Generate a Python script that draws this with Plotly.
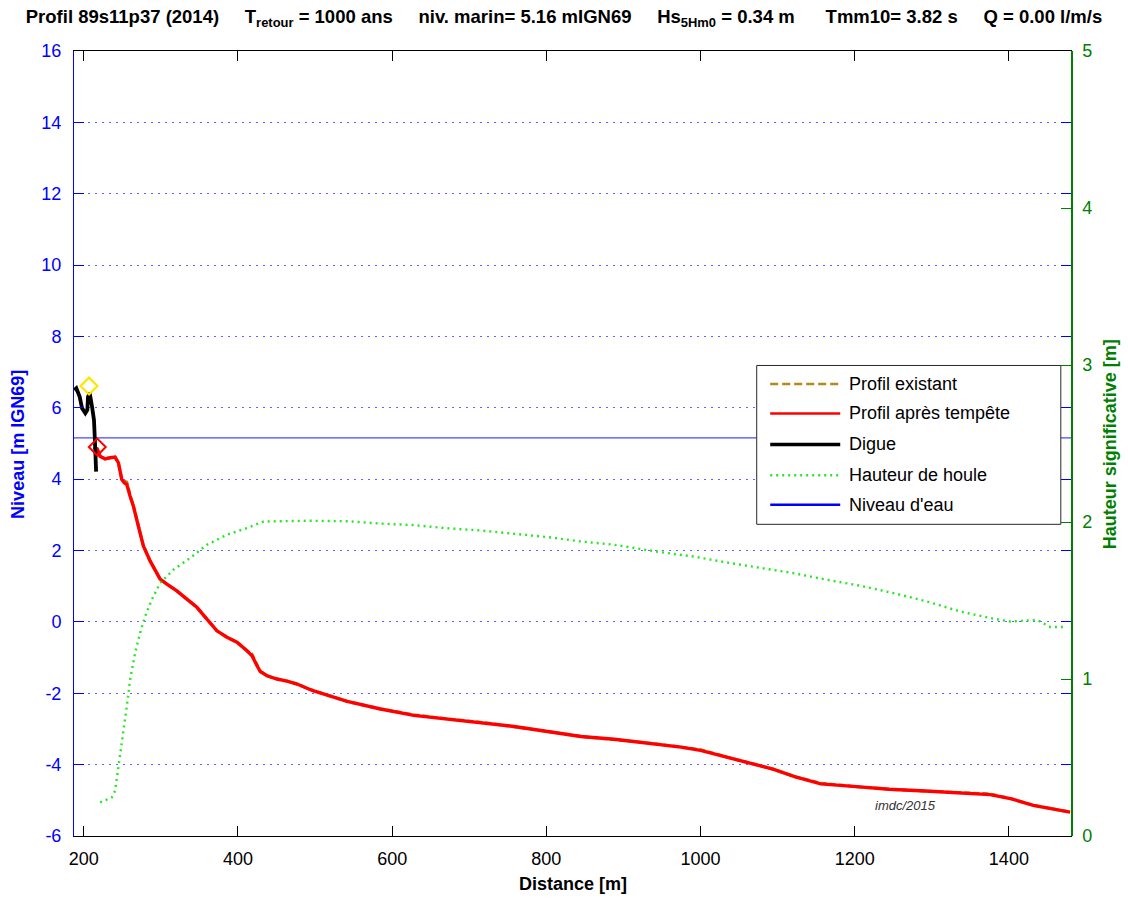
import plotly.graph_objects as go

# ---- profile data ----------------------------------------------------------
# Profile after storm (distance [m], level [m IGN69])
dist_apres = [213.0, 217.5, 221.1, 227.6, 234.0, 240.6, 244.9, 249.3, 252.5, 255.8,
              260.1, 264.4, 270.8, 277.3, 286.0, 299.0, 307.8, 320.7, 333.7, 346.7,
              359.7, 372.7, 385.7, 398.7, 411.7, 418.2, 424.7, 429.0, 437.7, 450.7,
              463.7, 476.7, 491.8, 498.3, 541.7, 584.9, 628.2, 671.6, 714.9, 758.2,
              801.6, 844.9, 888.1, 931.5, 974.8, 1000.0, 1041.5, 1067.0, 1095.0, 1123.0,
              1156.0, 1198.0, 1244.6, 1291.4, 1338.0, 1375.7, 1403.6, 1431.7, 1479.5]
niv_apres = [4.90, 4.85, 4.64, 4.57, 4.60, 4.62, 4.46, 3.99, 3.90, 3.85,
             3.52, 3.24, 2.68, 2.13, 1.71, 1.20, 1.06, 0.87, 0.64, 0.41,
             0.08, -0.25, -0.43, -0.57, -0.81, -0.95, -1.23, -1.39, -1.51, -1.60,
             -1.66, -1.74, -1.88, -1.93, -2.23, -2.44, -2.62, -2.72, -2.81, -2.93,
             -3.07, -3.21, -3.29, -3.39, -3.51, -3.60, -3.83, -3.98, -4.13, -4.34,
             -4.54, -4.61, -4.69, -4.74, -4.79, -4.84, -4.96, -5.14, -5.33]

# Existing profile (almost identical to the post-storm one)
dist_exist = list(dist_apres)
niv_exist = [4.90, 4.85, 4.64, 4.57, 4.60, 4.62, 4.46, 3.99, 3.95, 3.92,
             3.55, 3.24, 2.70, 2.13, 1.71, 1.20, 1.06, 0.87, 0.64, 0.41,
             0.08, -0.25, -0.43, -0.57, -0.81, -0.90, -1.20, -1.39, -1.51, -1.60,
             -1.66, -1.74, -1.88, -1.93, -2.23, -2.44, -2.60, -2.72, -2.81, -2.93,
             -3.07, -3.21, -3.29, -3.39, -3.51, -3.58, -3.83, -3.98, -4.13, -4.34,
             -4.52, -4.61, -4.69, -4.74, -4.79, -4.82, -4.96, -5.14, -5.33]

# Seawall (digue)
dist_digue = [187.5, 190.3, 194.7, 197.7, 202.0, 204.6, 205.5, 207.7, 210.7, 213.2, 214.2, 214.9, 216.0]
niv_digue = [6.50, 6.55, 6.31, 5.99, 5.85, 5.94, 6.31, 6.41, 6.03, 5.66, 5.19, 4.73, 4.21]

# Significant wave height along the profile [m]
dist_houle = [221.2, 228.0, 236.3, 240.6, 244.9, 249.3, 255.8, 260.1, 266.6, 273.1,
              279.6, 288.3, 299.0, 316.3, 338.0, 359.7, 385.7, 411.7, 433.3, 463.7,
              491.8, 541.7, 584.9, 628.2, 671.6, 714.9, 758.2, 801.6, 844.9, 888.1,
              947.7, 990.9, 1034.2, 1077.4, 1120.6, 1164.0, 1207.2, 1250.4, 1293.7, 1336.9,
              1380.1, 1401.8, 1436.4, 1453.7, 1475.3]
hs_houle = [0.214, 0.230, 0.246, 0.288, 0.426, 0.595, 0.828, 0.997, 1.167, 1.294,
            1.400, 1.506, 1.612, 1.696, 1.771, 1.855, 1.919, 1.961, 2.003, 2.008,
            2.008, 2.005, 1.990, 1.980, 1.960, 1.946, 1.925, 1.904, 1.876, 1.855,
            1.808, 1.780, 1.742, 1.706, 1.674, 1.632, 1.594, 1.547, 1.494, 1.430,
            1.384, 1.366, 1.377, 1.331, 1.331]

# Marked points: crest (yellow) and toe (red)
crete_x, crete_y = [206.8], [6.61]
pied_x, pied_y = [217.5], [4.90]

niv_marin = 5.16
x_lim = [187.3, 1480.6]
x_ticks = [200, 400, 600, 800, 1000, 1200, 1400]
y_ticks = [-6, -4, -2, 0, 2, 4, 6, 8, 10, 12, 14, 16]
y_tick_labels = ["-6", "-4", "-2", "0", "2", "4", "6", "8", "10", "12", "14", "16"]
hs_ticks = [0, 1, 2, 3, 4, 5]

legend_labels = ["Profil existant", "Profil après tempête", "Digue",
                 "Hauteur de houle", "Niveau d'eau"]

BROWN = "rgb(184,134,30)"
RED = "rgb(255,0,0)"
GREEN_DOT = "rgb(40,230,40)"
BLUE = "rgb(0,0,255)"
AXGREEN = "rgb(0,128,0)"
FONT = "Liberation Sans, Arial, sans-serif"

fig = go.Figure()

fig.add_trace(go.Scatter(x=dist_houle, y=hs_houle, yaxis="y2", mode="lines",
                         line=dict(color=GREEN_DOT, width=2.4, dash="2px,4px"),
                         showlegend=False, hoverinfo="skip"))
fig.add_trace(go.Scatter(x=x_lim, y=[niv_marin, niv_marin], mode="lines",
                         line=dict(color="rgb(70,70,255)", width=1.2),
                         showlegend=False, hoverinfo="skip"))
fig.add_trace(go.Scatter(x=dist_exist, y=niv_exist, mode="lines",
                         line=dict(color=BROWN, width=3, dash="6px,3px"),
                         showlegend=False, hoverinfo="skip"))
fig.add_trace(go.Scatter(x=dist_apres, y=niv_apres, mode="lines",
                         line=dict(color=RED, width=3.4),
                         showlegend=False, hoverinfo="skip"))
fig.add_trace(go.Scatter(x=dist_digue, y=niv_digue, mode="lines",
                         line=dict(color="black", width=3.8),
                         showlegend=False, hoverinfo="skip"))
fig.add_trace(go.Scatter(x=crete_x, y=crete_y, mode="markers",
                         marker=dict(symbol="diamond-open", size=13, color="rgb(255,230,0)",
                                     line=dict(width=2.2)),
                         showlegend=False, hoverinfo="skip"))
fig.add_trace(go.Scatter(x=pied_x, y=pied_y, mode="markers",
                         marker=dict(symbol="diamond-open", size=13, color=RED,
                                     line=dict(width=2)),
                         showlegend=False, hoverinfo="skip"))

# ---- layout ----------------------------------------------------------------
L, R, T, B = 74, 57.3, 50.7, 65.5
W, H = 1128, 902
pw, ph = W - L - R, H - T - B


def px_x(p):
    return (p - L) / pw


def px_y(p):
    return (H - B - p) / ph


gap = "\u00a0" * 5
title = ("Profil 89s11p37 (2014)" + gap + "T<sub>retour</sub> = 1000 ans" + gap +
         "niv. marin= 5.16 mIGN69" + gap + "Hs<sub>5Hm0</sub> = 0.34 m" + gap + "\u00a0" +
         "Tmm10= 3.82 s" + gap + "Q = 0.00 l/m/s")

fig.update_layout(
    width=W, height=H,
    margin=dict(l=L, r=R, t=T, b=B),
    paper_bgcolor="white", plot_bgcolor="white",
    font=dict(family=FONT, size=18, color="black"),
    showlegend=False,
    title=dict(text=title, x=0.5, xanchor="center", y=1 - 17 / H, yanchor="middle",
               font=dict(family=FONT, size=18.5, color="black", weight="bold")),
    xaxis=dict(range=x_lim, tickvals=x_ticks,
               ticks="inside", ticklen=10, tickcolor="black", tickwidth=1,
               showline=True, linecolor="black", linewidth=1, mirror="ticks",
               showgrid=False, zeroline=False,
               tickfont=dict(size=18, color="black"), ticklabelstandoff=6),
    yaxis=dict(range=[-6, 16], tickvals=y_ticks, ticktext=y_tick_labels,
               ticks="inside", ticklen=10,
               tickcolor=BLUE, showline=True, linecolor=BLUE, linewidth=1, mirror="ticks",
               showgrid=True, gridcolor="rgba(60,60,255,0.8)", gridwidth=1,
               griddash="2px,5px", zeroline=False,
               tickfont=dict(size=18, color=BLUE), ticklabelstandoff=8),
    yaxis2=dict(range=[0, 5], tickvals=hs_ticks, overlaying="y", side="right",
                ticks="inside", ticklen=10, tickcolor=AXGREEN, showline=True,
                linecolor=AXGREEN, linewidth=1.5, showgrid=False, zeroline=False,
                tickfont=dict(size=18, color=AXGREEN), ticklabelstandoff=6),
)

annotations = [
    dict(text="<b>Niveau [m IGN69]</b>", xref="paper", yref="paper",
         x=px_x(18), y=px_y(444), textangle=-90, showarrow=False,
         font=dict(size=18, color=BLUE), xanchor="center", yanchor="middle"),
    dict(text="<b>Hauteur significative [m]</b>", xref="paper", yref="paper",
         x=px_x(1110), y=px_y(444), textangle=-90, showarrow=False,
         font=dict(size=18, color=AXGREEN), xanchor="center", yanchor="middle"),
    dict(text="<b>Distance [m]</b>", xref="paper", yref="paper",
         x=px_x(573), y=px_y(885), showarrow=False,
         font=dict(size=18, color="black"), xanchor="center", yanchor="middle"),
    dict(text="<i>imdc/2015</i>", xref="paper", yref="paper",
         x=px_x(905), y=px_y(806), showarrow=False,
         font=dict(size=13, color="rgb(50,50,50)"), xanchor="center", yanchor="middle"),
]

# Legend box drawn by hand (long line samples)
shapes = [dict(type="rect", xref="paper", yref="paper",
               x0=px_x(756.5), x1=px_x(1060.5), y0=px_y(524.5), y1=px_y(365.5),
               line=dict(color="rgb(40,40,40)", width=1), fillcolor="white", layer="above")]
leg_styles = [dict(color=BROWN, width=2.5, dash="8px,4px"),
              dict(color=RED, width=2.5),
              dict(color="black", width=3.5),
              dict(color=GREEN_DOT, width=2.5, dash="2px,4px"),
              dict(color=BLUE, width=2.5)]
leg_y = [384, 413.5, 444.5, 475.5, 505]
for lab, sty, yy in zip(legend_labels, leg_styles, leg_y):
    shapes.append(dict(type="line", xref="paper", yref="paper",
                       x0=px_x(770), x1=px_x(840), y0=px_y(yy), y1=px_y(yy),
                       line=sty, layer="above"))
    annotations.append(dict(text=lab, xref="paper", yref="paper",
                            x=px_x(847), y=px_y(yy), showarrow=False,
                            xanchor="left", yanchor="middle",
                            font=dict(size=18, color="black")))

fig.update_layout(annotations=annotations, shapes=shapes)

fig.write_html("out.html")
